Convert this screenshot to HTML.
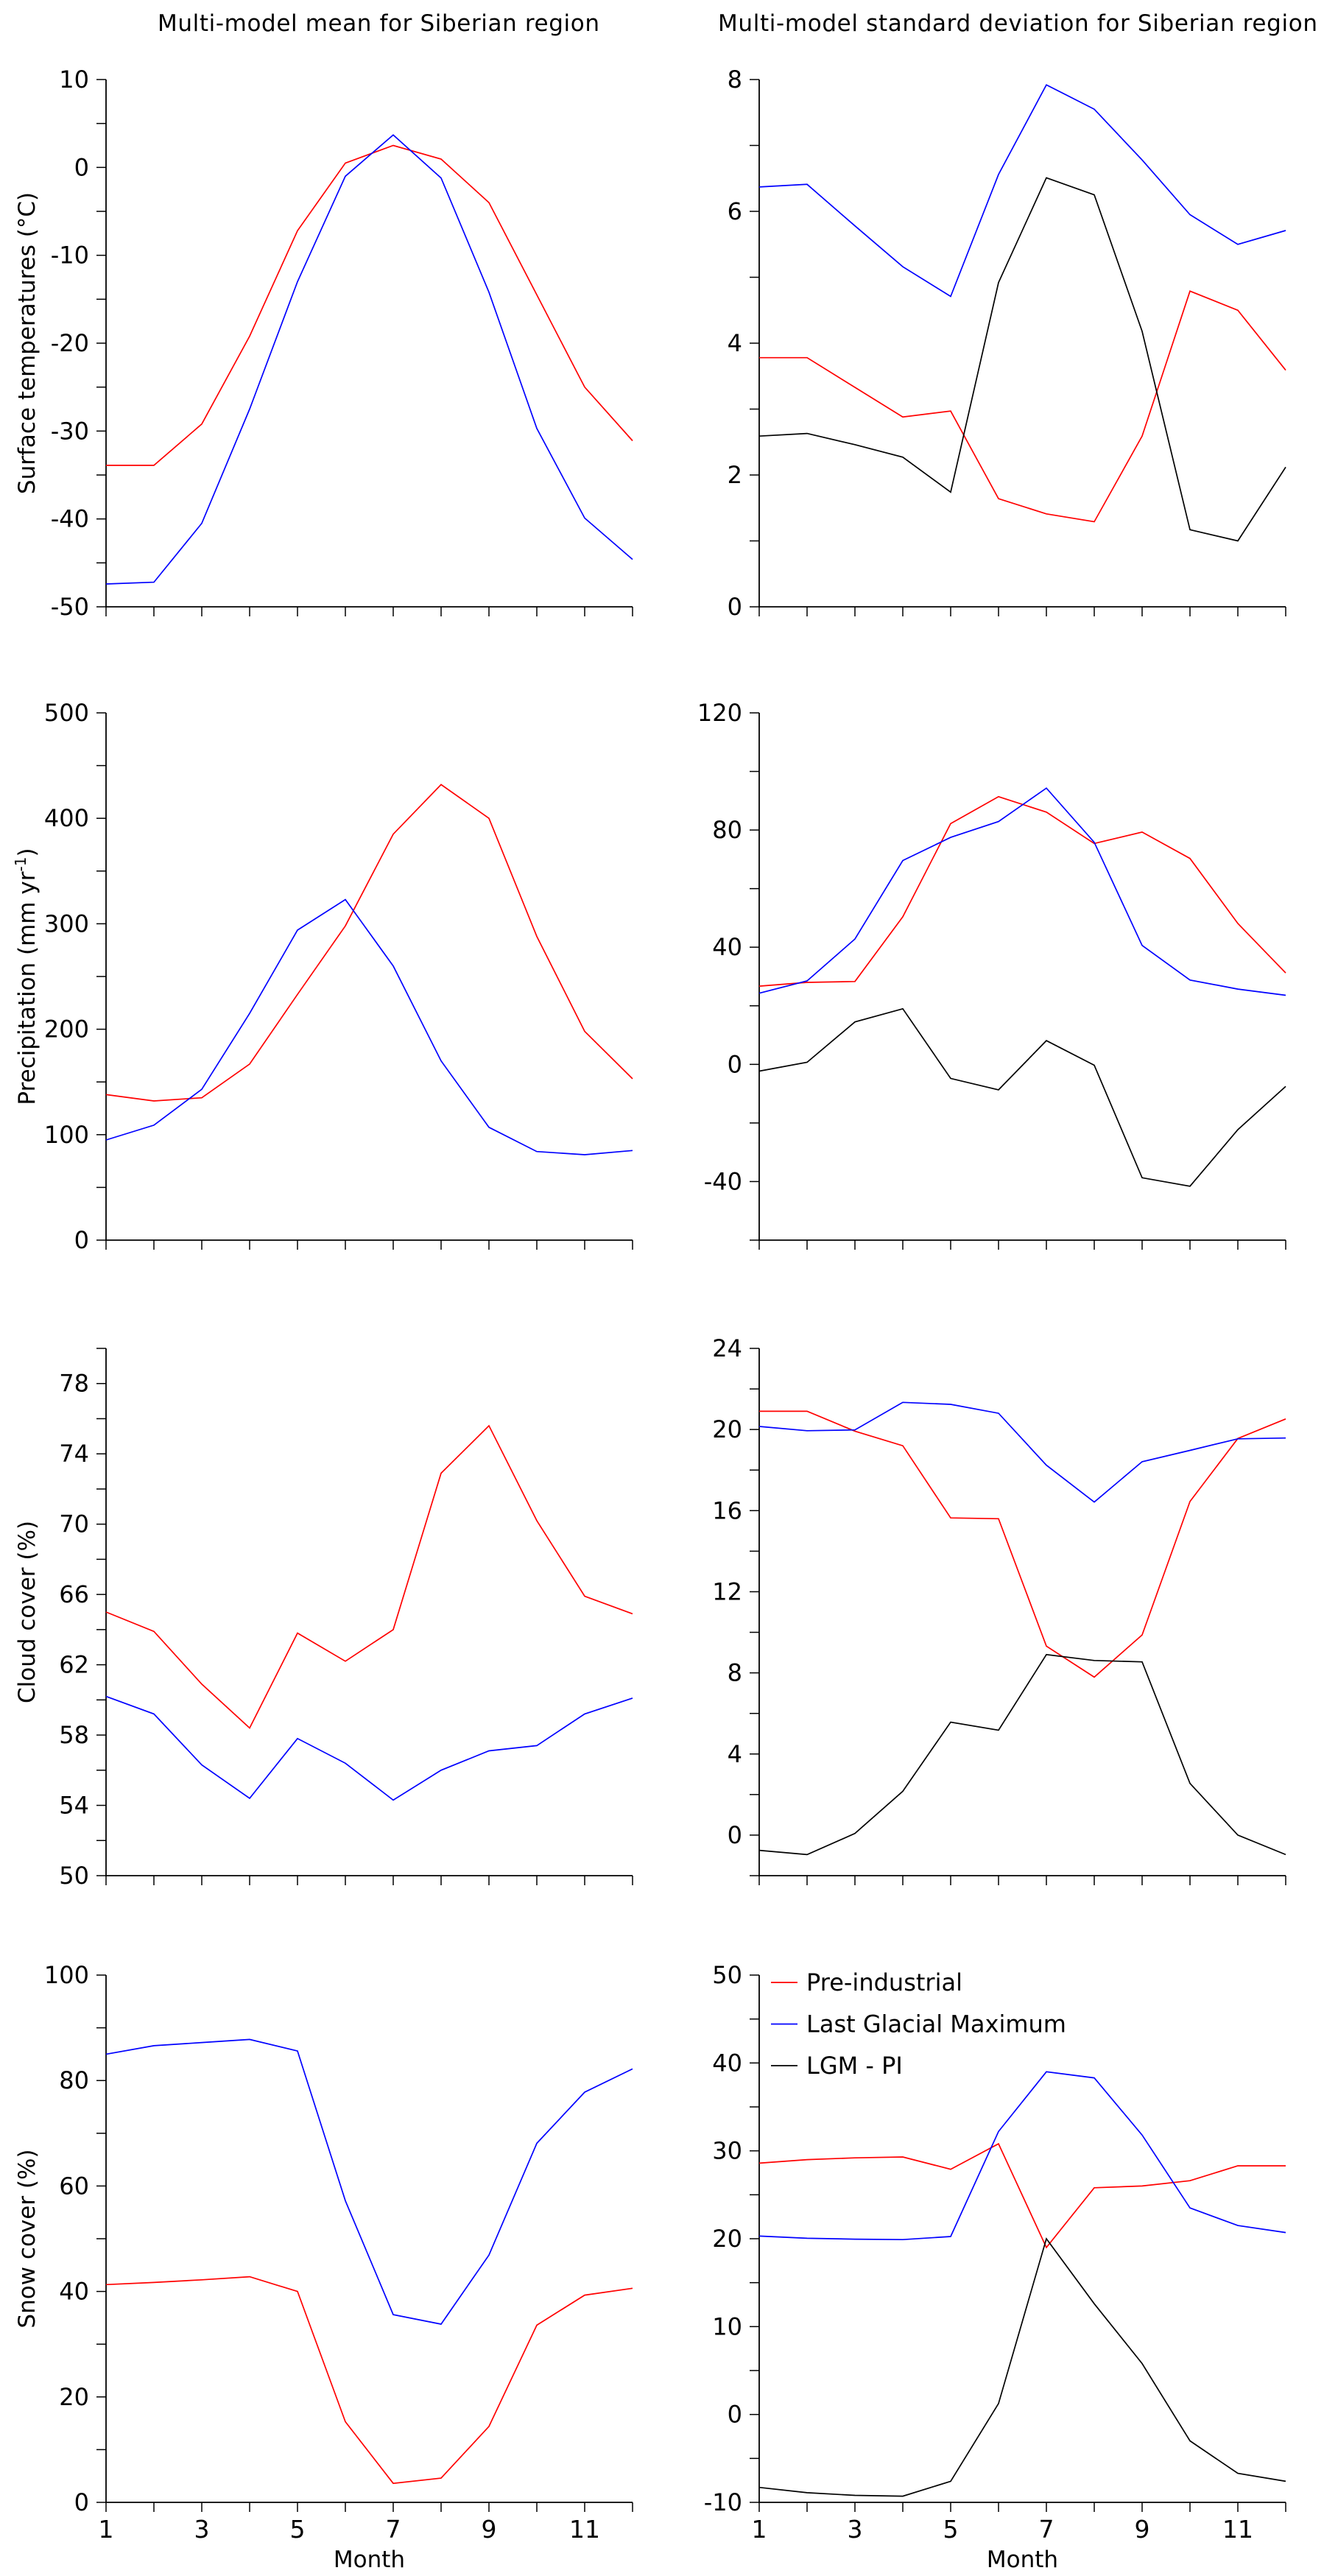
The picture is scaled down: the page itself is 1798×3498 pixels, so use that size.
<!DOCTYPE html>
<html><head><meta charset="utf-8"><style>
html,body{margin:0;padding:0;background:#fff;}
svg{display:block;font-family:"DejaVu Sans","Liberation Sans",sans-serif;}
</style></head><body>
<svg id="fig" width="1798" height="3498" viewBox="0 0 1798 3498" xmlns="http://www.w3.org/2000/svg">
<text x="514" y="42" font-size="31" text-anchor="middle" textLength="600">Multi-model mean for Siberian region</text>
<text x="975" y="42" font-size="31" textLength="814">Multi-model standard deviation for Siberian region</text>
</svg>
<script>
const months = [1,2,3,4,5,6,7,8,9,10,11,12];
const xTickLabels = ["1","3","5","7","9","11"];
const tempPI  = [-33.9,-33.9,-29.2,-19.2,-7.2,0.5,2.5,0.95,-4.0,-14.5,-25.0,-31.1];
const tempLGM = [-47.4,-47.2,-40.5,-27.5,-13.0,-1.0,3.7,-1.2,-14.2,-29.7,-39.9,-44.6];
const tempSdPI  = [3.78,3.78,3.33,2.88,2.97,1.64,1.41,1.29,2.59,4.79,4.50,3.59];
const tempSdLGM = [6.37,6.41,5.78,5.16,4.71,6.56,7.92,7.55,6.78,5.95,5.50,5.71];
const tempSdDiff = [2.59,2.63,2.46,2.27,1.74,4.92,6.51,6.25,4.18,1.17,1.00,2.12];
const precPI  = [138,132,135,167,233,298,385,432,400,288,198,153];
const precLGM = [95,109,143,215,294,323,260,170,107,84,81,85];
const precSdPI  = [26.7,28.0,28.3,50.4,82.2,91.4,86.1,75.4,79.3,70.3,48.1,31.2];
const precSdLGM = [24.3,28.5,42.8,69.6,77.5,82.9,94.3,75.8,40.6,28.8,25.7,23.6];
const precSdDiff = [-2.3,0.7,14.5,19.0,-4.8,-8.7,8.1,-0.3,-38.7,-41.6,-22.3,-7.5];
const cloudPI  = [65.0,63.9,60.9,58.4,63.8,62.2,64.0,72.9,75.6,70.2,65.9,64.9];
const cloudLGM = [60.2,59.2,56.3,54.4,57.8,56.4,54.3,56.0,57.1,57.4,59.2,60.1];
const cloudSdPI  = [20.9,20.9,19.92,19.2,15.64,15.6,9.32,7.79,9.87,16.45,19.56,20.52];
const cloudSdLGM = [20.15,19.94,19.98,21.34,21.24,20.8,18.24,16.42,18.41,18.97,19.54,19.58];
const cloudSdDiff = [-0.75,-0.96,0.08,2.16,5.57,5.17,8.9,8.61,8.54,2.55,0,-0.96];
const snowPI  = [41.3,41.7,42.2,42.8,40.0,15.3,3.6,4.6,14.4,33.6,39.3,40.6];
const snowLGM = [85,86.6,87.2,87.8,85.6,57.2,35.6,33.8,46.9,68.1,77.8,82.2];
const snowSdPI  = [28.6,29.0,29.2,29.3,27.9,30.8,19.0,25.8,26.0,26.6,28.3,28.3];
const snowSdLGM = [20.3,20.05,19.95,19.9,20.25,32.2,39.0,38.3,31.8,23.5,21.5,20.7];
const snowSdDiff = [-8.3,-8.9,-9.2,-9.3,-7.6,1.25,20.0,12.6,5.8,-3.0,-6.7,-7.6];
const legendLabels = ["Pre-industrial","Last Glacial Maximum","LGM - PI"];

const NS = "http://www.w3.org/2000/svg";
const svg = document.getElementById('fig');
function mk(tag, attrs, parent){const e=document.createElementNS(NS,tag);for(const k in attrs)e.setAttribute(k,attrs[k]);(parent||svg).appendChild(e);return e;}

const colX = [144, 1031];
const PW = 715;
const rowY = [108, 968, 1831, 2682];
const PH = 716;

const panels = [
 {c:0,r:0,name:'temp-mean',min:-50,max:10,major:10,minor:5,labelStart:-50,title:'Surface temperatures (°C)',series:[tempPI,tempLGM]},
 {c:1,r:0,name:'temp-sd',min:0,max:8,major:2,minor:1,labelStart:0,series:[tempSdPI,tempSdLGM,tempSdDiff]},
 {c:0,r:1,name:'precip-mean',min:0,max:500,major:100,minor:50,labelStart:0,title:'precip',series:[precPI,precLGM]},
 {c:1,r:1,name:'precip-sd',min:-60,max:120,major:40,minor:20,labelStart:-40,series:[precSdPI,precSdLGM,precSdDiff]},
 {c:0,r:2,name:'cloud-mean',min:50,max:80,major:4,minor:2,labelStart:50,labelEnd:78,title:'Cloud cover (%)',series:[cloudPI,cloudLGM]},
 {c:1,r:2,name:'cloud-sd',min:-2,max:24,major:4,minor:2,labelStart:0,series:[cloudSdPI,cloudSdLGM,cloudSdDiff]},
 {c:0,r:3,name:'snow-mean',min:0,max:100,major:20,minor:10,labelStart:0,title:'Snow cover (%)',series:[snowPI,snowLGM]},
 {c:1,r:3,name:'snow-sd',min:-10,max:50,major:10,minor:5,labelStart:-10,series:[snowSdPI,snowSdLGM,snowSdDiff],legend:true},
];
const colors = ['#ff0000','#0000ff','#000000'];
const seriesNames = ['pre-industrial','lgm','lgm-minus-pi'];

panels.forEach(p=>{
  const x0=colX[p.c], x1=x0+PW, y0=rowY[p.r], y1=y0+PH;
  const xs = m => x0 + (m-1)/11*PW;
  const ys = v => y1 - (v-p.min)/(p.max-p.min)*PH;
  const g = mk('g',{});
  
  
  const ax = mk('path',{d:`M${x0},${y0} V${y1} H${x1}`,stroke:'#000','stroke-width':1.8,fill:'none'},g);
  
  
  // y minor/major ticks
  const n = Math.round((p.max-p.min)/p.minor);
  for(let i=0;i<=n;i++){
    const v=p.min+i*p.minor, y=ys(v);
    const t=mk('line',{x1:x0-13,x2:x0,y1:y,y2:y,stroke:'#000','stroke-width':1.5},g);
    
    
  }
  const lEnd = p.labelEnd!==undefined?p.labelEnd:p.max;
  for(let v=p.labelStart; v<=lEnd+1e-9; v+=p.major){
    const t=mk('text',{x:x0-23,y:ys(v)+11,'font-size':32,'text-anchor':'end'},g);
    t.textContent = String(Math.round(v*100)/100);
    
    
  }
  // x ticks
  months.forEach(m=>{
    const t=mk('line',{x1:xs(m),x2:xs(m),y1:y1,y2:y1+13,stroke:'#000','stroke-width':1.5},g);
    
    
  });
  if(p.r===3){
    xTickLabels.forEach(l=>{
      const t=mk('text',{x:xs(+l),y:y1+48,'font-size':33,'text-anchor':'middle'},g);
      t.textContent=l;
      
      
    });
    const xt=mk('text',{x:(x0+x1)/2,y:y1+88,'font-size':31,'text-anchor':'middle'},g);
    xt.textContent='Month';
    
    
  }
  if(p.title){
    const cy=(y0+y1)/2;
    const t=mk('text',{x:0,y:0,'font-size':31,'text-anchor':'middle',transform:`translate(47,${cy}) rotate(-90)`},g);
    if(p.title==='precip'){
      t.textContent='Precipitation (mm yr';
      const s=mk('tspan',{dy:-12,'font-size':20},t); s.textContent='-1';
      const s2=mk('tspan',{dy:12},t); s2.textContent=')';
    } else t.textContent=p.title;
    
    
  }
  p.series.forEach((arr,si)=>{
    const d=arr.map((v,i)=>(i?'L':'M')+xs(months[i]).toFixed(1)+','+ys(v).toFixed(1)).join(' ');
    const l=mk('path',{d:d,stroke:colors[si],'stroke-width':1.7,fill:'none'},g);
    
    
  });
  if(p.legend){
    const lg=mk('g',{},g);
    
    
    legendLabels.forEach((lab,i)=>{
      const y=2692+i*56.5;
      const ln=mk('line',{x1:1047,x2:1083,y1:y,y2:y,stroke:colors[i],'stroke-width':1.7},lg);
      
      
      const tx=mk('text',{x:1095,y:y+11,'font-size':32},lg);
      tx.textContent=lab;
      
      
    });
  }
});
</script>
</body></html>
